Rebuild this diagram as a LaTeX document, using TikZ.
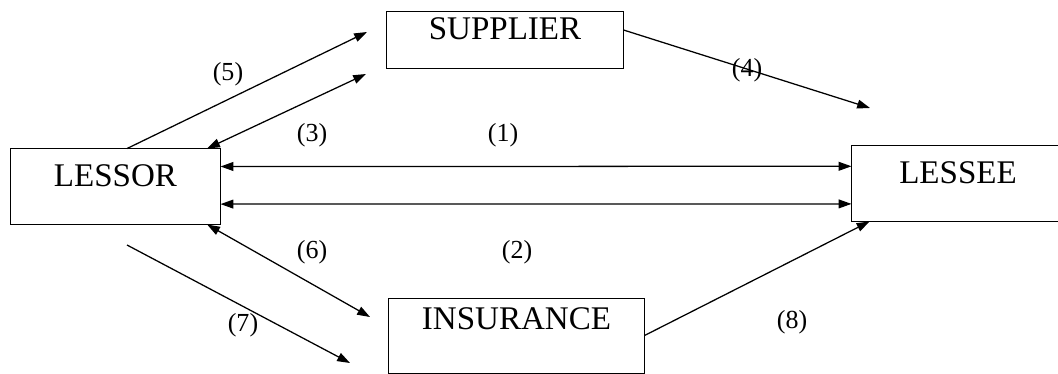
\documentclass[tikz,border=0pt]{standalone}
\usepackage{fontspec}
\setmainfont{Liberation Serif}
\usepackage{tikz}
\usetikzlibrary{arrows.meta, positioning, calc}
\tikzset{
  party/.style={draw=black, line width=0.7pt, inner sep=0pt, text height=0.55cm, text depth=0.55cm,
    font=\fontsize{23.5}{28}\selectfont},
  flow/.style={line width=0.9pt, -{Triangle[length=3.2mm, width=2.2mm]}},
  dflow/.style={line width=0.9pt, {Triangle[length=3.2mm, width=2.2mm]}-{Triangle[length=3.2mm, width=2.2mm]}},
  num/.style={font=\fontsize{18.5}{22}\selectfont, inner sep=0pt}
}

\begin{document}
\begin{tikzpicture}[x=0.025cm, y=-0.025cm]

  \clip (0,0) rectangle (1058,374);

  %% Parties
  \node[party, minimum width=5.225cm, minimum height=1.875cm] (lessor) at (115.5,186.5) {LESSOR};
  \node[party, minimum width=5.9cm, minimum height=1.4cm] (supplier) at (505,40) {SUPPLIER};
  % right side runs off the page
  \node[party, minimum width=5.8cm, minimum height=1.875cm] (lessee) at (968,183.5) {LESSEE\kern0.5cm};
  \node[party, minimum width=6.375cm, minimum height=1.875cm, text height=0.4cm, text depth=0.72cm]
    (insurance) at (516.5,335.5) {INSURANCE};

  %% Free ends
  \coordinate (s5) at (367,32);
  \coordinate (s3) at (366,74);
  \coordinate (l4) at (870,108);
  \coordinate (i6) at (370,317);
  \coordinate (o7) at (127,245);
  \coordinate (i7) at (350,363);

  %% Connectors
  \draw[flow] ([xshift=0.29cm]lessor.north) -- (s5);
  \draw[dflow] ([xshift=2.29cm]lessor.north) -- (s3);
  \draw[flow] ([yshift=0.25cm]supplier.east) -- (l4);
  \draw[dflow] ([yshift=0.5cm]lessor.east) -- ([yshift=0.43cm]lessee.west);
  \draw[dflow] ([yshift=-0.44cm]lessor.east) -- ([yshift=-0.51cm]lessee.west);
  \draw[dflow] ([xshift=2.29cm]lessor.south) -- (i6);
  \draw[flow] (o7) -- (i7);
  \draw[flow] (insurance.east) -- ([xshift=0.45cm]lessee.south west);

  %% Step numbers
  \node[num] (n1) at (503,135) {(1)};
  \node[num] (n2) at (517,252) {(2)};
  \node[num] (n3) at (312,135) {(3)};
  \node[num] (n4) at (747,70) {(4)};
  \node[num] (n5) at (228,74) {(5)};
  \node[num] (n6) at (312,252) {(6)};
  \node[num] (n7) at (243,325) {(7)};
  \node[num] (n8) at (792,322) {(8)};

\end{tikzpicture}
\end{document}
